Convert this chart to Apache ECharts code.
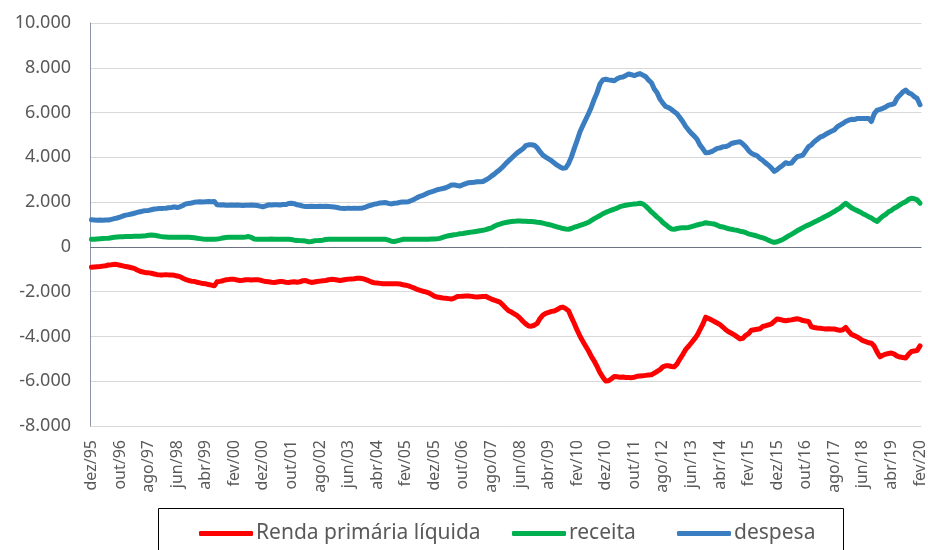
<!DOCTYPE html>
<html>
<head>
<meta charset="utf-8">
<script src="https://cdn.jsdelivr.net/npm/echarts@6/dist/echarts.min.js"></script>
<style>
  html, body { margin: 0; padding: 0; background: #fff; }
  #chart { width: 928px; height: 550px; }
</style>
</head>
<body>
<div id="chart"></div>
<script>
// meses de dez/95 a fev/20
const monthNames = ['jan', 'fev', 'mar', 'abr', 'mai', 'jun', 'jul', 'ago', 'set', 'out', 'nov', 'dez']
const months = []
for (let i = 0; i < 291; i++) {
  const t = 11 + i
  months.push(monthNames[t % 12] + '/' + String((1995 + Math.floor(t / 12)) % 100).padStart(2, '0'))
}

// Renda primária líquida
const renda = [
  -910, -900, -890, -880, -860, -840, -810, -800, -780, -790,
  -820, -850, -880, -900, -930, -960, -1030, -1090, -1120, -1150,
  -1160, -1180, -1210, -1240, -1250, -1250, -1240, -1250, -1250, -1270,
  -1300, -1330, -1400, -1460, -1500, -1530, -1540, -1580, -1610, -1640,
  -1650, -1680, -1710, -1740, -1560, -1540, -1510, -1470, -1460, -1440,
  -1450, -1480, -1500, -1490, -1470, -1470, -1480, -1470, -1470, -1480,
  -1520, -1550, -1560, -1580, -1590, -1570, -1550, -1550, -1580, -1590,
  -1570, -1560, -1580, -1560, -1510, -1500, -1550, -1590, -1570, -1550,
  -1530, -1510, -1500, -1470, -1450, -1460, -1480, -1500, -1480, -1460,
  -1440, -1430, -1420, -1400, -1400, -1420, -1460, -1510, -1570, -1600,
  -1610, -1630, -1650, -1650, -1650, -1650, -1650, -1650, -1660, -1690,
  -1710, -1740, -1790, -1840, -1900, -1940, -1980, -2010, -2050, -2120,
  -2200, -2240, -2260, -2280, -2290, -2310, -2330, -2290, -2220, -2210,
  -2200, -2190, -2190, -2210, -2230, -2240, -2230, -2220, -2210, -2270,
  -2330, -2380, -2420, -2470, -2600, -2730, -2850, -2910, -2990, -3070,
  -3180, -3320, -3440, -3530, -3540, -3500, -3420, -3200, -3050, -2970,
  -2930, -2880, -2860, -2800, -2720, -2690, -2760, -2850, -3150, -3420,
  -3720, -3990, -4220, -4440, -4650, -4900, -5110, -5350, -5620, -5820,
  -5990, -5980, -5890, -5790, -5800, -5820, -5810, -5830, -5830, -5840,
  -5820, -5780, -5770, -5760, -5740, -5720, -5710, -5640, -5560, -5480,
  -5360, -5310, -5310, -5340, -5360, -5220, -5000, -4800, -4580, -4440,
  -4280, -4120, -3950, -3700, -3450, -3140, -3200, -3260, -3330, -3400,
  -3470, -3580, -3700, -3790, -3860, -3930, -4020, -4110, -4080, -3950,
  -3870, -3720, -3700, -3680, -3660, -3550, -3520, -3480, -3440, -3330,
  -3220, -3240, -3280, -3300, -3280, -3260, -3230, -3210, -3240, -3290,
  -3310, -3330, -3570, -3600, -3620, -3630, -3650, -3670, -3660, -3670,
  -3670, -3700, -3730, -3700, -3600, -3760, -3910, -3960, -4020, -4100,
  -4190, -4230, -4280, -4300, -4440, -4700, -4910, -4840, -4790, -4760,
  -4740, -4790, -4880, -4920, -4940, -4960, -4800, -4670, -4650, -4630,
  -4420,
]

const receita = [
  340, 340, 350, 360, 370, 380, 390, 410, 430, 440,
  450, 450, 460, 460, 460, 470, 470, 480, 490, 500,
  520, 530, 520, 500, 470, 450, 440, 430, 430, 430,
  430, 430, 430, 430, 430, 420, 410, 390, 370, 350,
  340, 340, 340, 340, 350, 370, 400, 420, 430, 430,
  430, 430, 430, 430, 440, 460, 420, 350, 340, 340,
  340, 340, 340, 350, 340, 340, 340, 340, 340, 340,
  330, 300, 290, 280, 270, 260, 230, 240, 270, 280,
  290, 300, 330, 340, 340, 340, 340, 340, 340, 340,
  340, 340, 340, 340, 340, 340, 340, 340, 340, 340,
  340, 340, 340, 340, 300, 250, 240, 270, 300, 340,
  340, 340, 340, 340, 340, 340, 340, 340, 340, 350,
  350, 360, 380, 430, 470, 500, 520, 540, 560, 590,
  600, 620, 640, 660, 680, 700, 720, 740, 770, 810,
  850, 920, 980, 1020, 1060, 1090, 1110, 1130, 1140, 1160,
  1160, 1150, 1140, 1130, 1130, 1120, 1100, 1090, 1060, 1030,
  1000, 970, 930, 890, 860, 820, 800, 790, 820, 880,
  910, 960, 1000, 1050, 1100, 1180, 1260, 1330, 1400, 1480,
  1540, 1590, 1640, 1690, 1730, 1800, 1830, 1860, 1880, 1900,
  1920, 1930, 1950, 1920, 1820, 1700, 1560, 1450, 1330, 1230,
  1090, 990, 880, 800, 790, 820, 840, 860, 860, 870,
  900, 940, 980, 1010, 1040, 1080, 1060, 1040, 1020, 970,
  910, 890, 850, 810, 790, 760, 740, 700, 680, 640,
  580, 550, 520, 480, 440, 400, 360, 290, 240, 200,
  230, 280, 330, 410, 490, 560, 640, 720, 790, 860,
  930, 980, 1040, 1110, 1170, 1230, 1300, 1370, 1430, 1510,
  1580, 1660, 1730, 1850, 1950, 1850, 1750, 1680, 1620, 1560,
  1480, 1420, 1350, 1290, 1200, 1140, 1260, 1370, 1450, 1570,
  1630, 1730, 1790, 1880, 1960, 2020, 2120, 2170, 2150, 2100,
  1950,
]

const despesa = [
  1210, 1200, 1190, 1200, 1190, 1200, 1200, 1230, 1260, 1290,
  1330, 1380, 1420, 1440, 1470, 1500, 1540, 1570, 1600, 1620,
  1630, 1660, 1690, 1700, 1720, 1720, 1730, 1750, 1760, 1790,
  1760, 1790, 1850, 1920, 1940, 1960, 1990, 2010, 2020, 2010,
  2020, 2030, 2020, 2030, 1880, 1870, 1880, 1860, 1860, 1870,
  1860, 1870, 1860, 1850, 1860, 1860, 1870, 1860, 1850, 1820,
  1790, 1830, 1880, 1870, 1880, 1880, 1870, 1890, 1890, 1940,
  1950, 1930, 1880, 1860, 1820, 1800, 1800, 1810, 1800, 1800,
  1810, 1800, 1810, 1800, 1790, 1780, 1760, 1730, 1720, 1720,
  1730, 1720, 1730, 1720, 1730, 1740, 1780, 1830, 1870, 1910,
  1930, 1960, 1970, 1980, 1940, 1920, 1950, 1960, 1990, 2000,
  2010, 2020, 2070, 2130, 2200, 2260, 2300, 2360, 2420, 2460,
  2500, 2550, 2580, 2610, 2640, 2700, 2760, 2770, 2740, 2720,
  2780, 2820, 2870, 2880, 2890, 2910, 2910, 2920, 2990, 3060,
  3160, 3250, 3360, 3460, 3580, 3720, 3840, 3960, 4080, 4200,
  4290, 4380, 4520, 4560, 4560, 4540, 4430, 4250, 4100, 4010,
  3930, 3850, 3750, 3650, 3570, 3510, 3530, 3720, 4020, 4400,
  4760, 5140, 5420, 5690, 5960, 6250, 6600, 6900, 7280, 7460,
  7490, 7460, 7440, 7420, 7510, 7570, 7590, 7650, 7720, 7690,
  7650, 7700, 7740, 7670, 7600, 7450, 7330, 7050, 6880, 6600,
  6420, 6270, 6220, 6140, 6040, 5940, 5770, 5590, 5380, 5220,
  5070, 4950, 4800, 4550, 4380, 4200, 4210, 4250, 4320, 4400,
  4420, 4470, 4480, 4530, 4620, 4650, 4680, 4700, 4600, 4470,
  4300, 4180, 4120, 4070, 3950, 3860, 3740, 3650, 3520, 3370,
  3450, 3560, 3650, 3760, 3720, 3740, 3900, 4030, 4060, 4100,
  4290, 4480, 4560, 4700, 4800, 4900, 4950, 5030, 5100, 5160,
  5220, 5360, 5440, 5510, 5600, 5660, 5700, 5690, 5730, 5740,
  5730, 5740, 5740, 5600, 5950, 6110, 6140, 6190, 6250, 6330,
  6360, 6400, 6650, 6780, 6920, 7000, 6880, 6830, 6710, 6630,
  6350,
]

const seriesNames = ['Renda primária líquida', 'receita', 'despesa']
const colors = ['#ff0000', '#00b050', '#3a7dc1']
const legendLeft = [194, 507, 672]

;(function () {
  let myChart = echarts.init(document.getElementById('chart'))
  const fmt = v => (v < 0 ? '-' : '') + String(Math.abs(v)).replace(/\B(?=(\d{3})+(?!\d))/g, '.')
  const lineSeries = (name, data, idx) => ({
    name: name,
    type: 'line',
    data: data,
    symbol: 'none',
    color: colors[idx],
    lineStyle: { width: 5, color: colors[idx], cap: 'round', join: 'round' },
  })
  // uma legenda por item para acertar a posição
  const legends = seriesNames.map((name, i) => ({
    left: legendLeft[i],
    top: 518,
    icon: 'roundRect',
    itemWidth: 54,
    itemHeight: 5,
    itemGap: 0,
    data: [name],
    textStyle: { color: '#595959', fontSize: 21, fontFamily: 'Noto Sans', padding: [0, 0, 0, -2] },
  }))
  let options = {
    animation: false,
    textStyle: { fontFamily: 'Noto Sans' },
    grid: { left: 90, right: 4, top: 23, bottom: 124 },
    legend: legends,
    graphic: [
      {
        type: 'rect',
        shape: { x: 158.5, y: 508.5, width: 685, height: 60 },
        style: { fill: 'none', stroke: '#000', lineWidth: 1 },
        silent: true,
      },
    ],
    xAxis: {
      type: 'category',
      data: months,
      boundaryGap: true,
      axisLine: { show: false },
      axisTick: { show: false },
      axisLabel: {
        interval: 9,
        rotate: 90,
        margin: 14,
        color: '#595959',
        fontSize: 16,
      },
    },
    yAxis: {
      type: 'value',
      min: -8000,
      max: 10000,
      interval: 2000,
      axisLine: { show: true, lineStyle: { color: '#8a94a3', width: 1 } },
      axisTick: { show: false },
      axisLabel: { formatter: fmt, color: '#595959', fontSize: 18, margin: 19 },
      splitLine: { lineStyle: { color: '#d9d9d9', width: 1 } },
    },
    series: [
      Object.assign(lineSeries(seriesNames[0], renda, 0), {
        markLine: {
          silent: true,
          symbol: 'none',
          label: { show: false },
          lineStyle: { color: '#6b7380', width: 1, type: 'solid' },
          data: [{ yAxis: 0 }],
        },
      }),
      lineSeries(seriesNames[1], receita, 1),
      lineSeries(seriesNames[2], despesa, 2),
    ],
  }
  myChart.setOption(options)
  window.addEventListener('resize', () => {
    myChart.resize()
  })
})()
</script>
</body>
</html>
